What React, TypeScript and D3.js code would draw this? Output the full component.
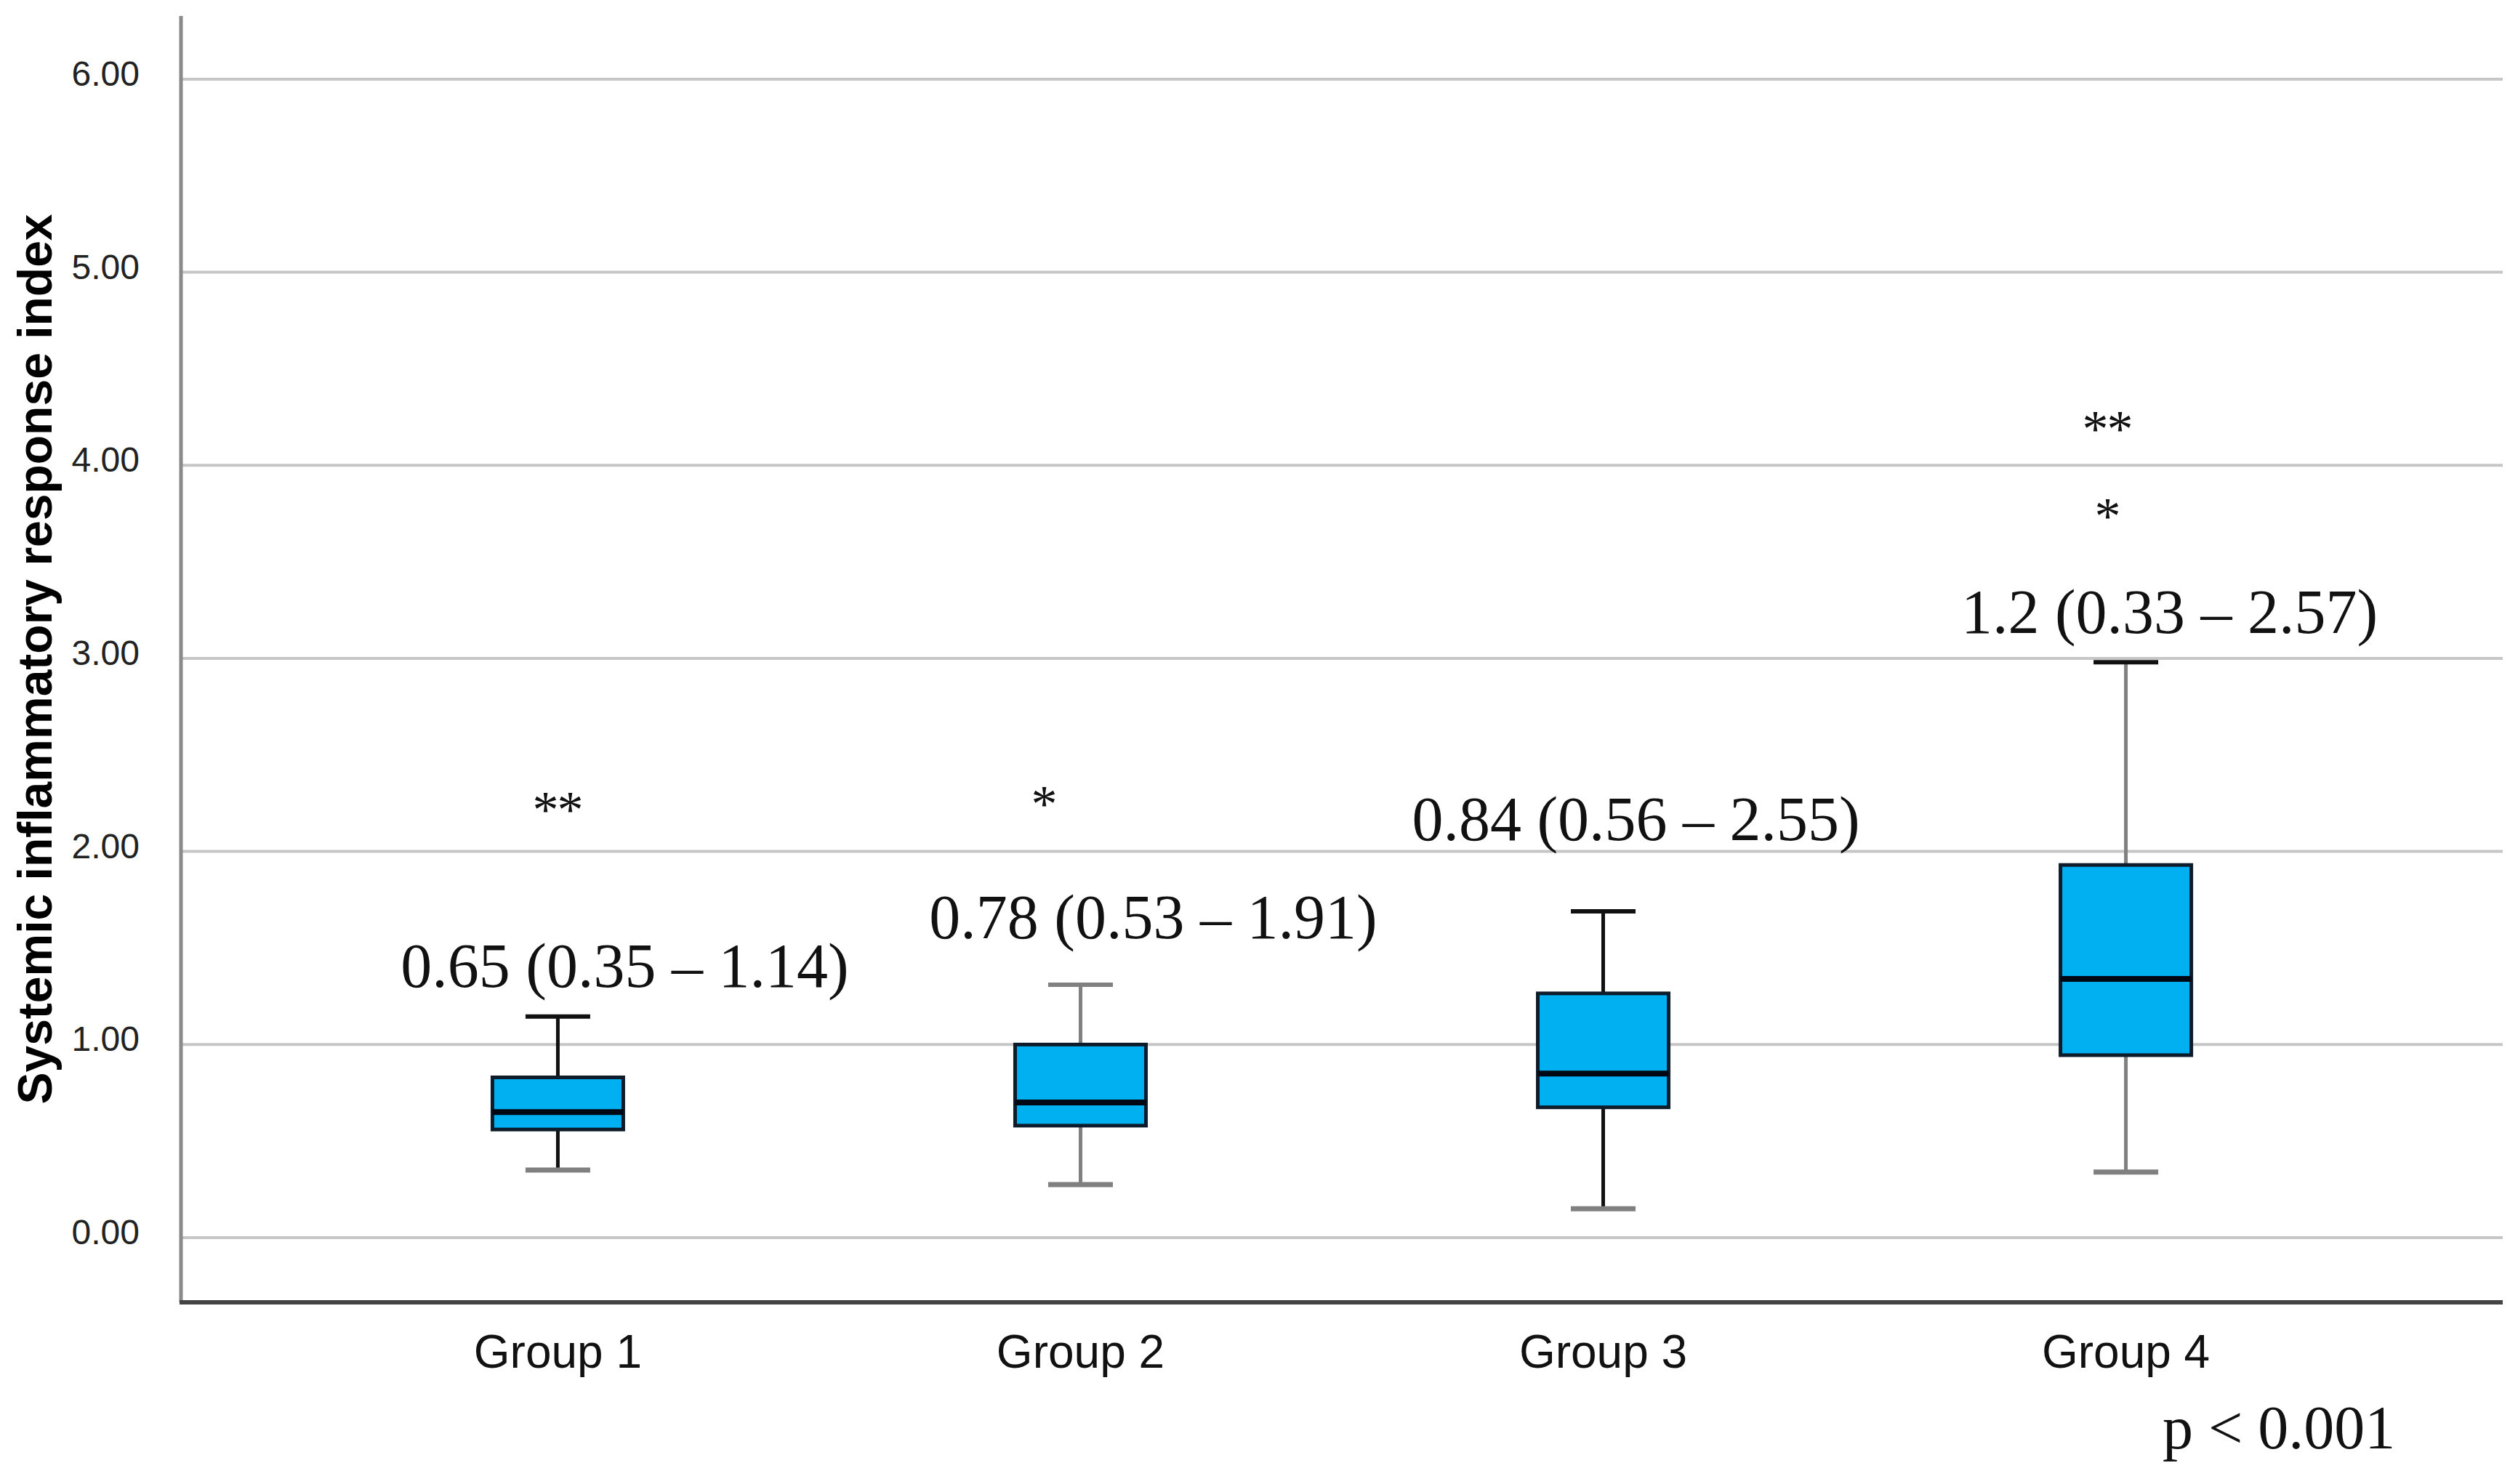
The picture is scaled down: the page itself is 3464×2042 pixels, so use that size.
import React from "react";
import * as d3 from "d3";

// ---- data ----
const groups = ["Group 1", "Group 2", "Group 3", "Group 4"];
const whiskerLow = [0.35, 0.275, 0.15, 0.34];
const q1 = [0.56, 0.58, 0.675, 0.945];
const median = [0.65, 0.7, 0.85, 1.34];
const q3 = [0.83, 1.0, 1.265, 1.93];
const whiskerHigh = [1.145, 1.31, 1.69, 2.98];
const outliers: number[][] = [[2.27, 2.27], [2.3], [], [4.24, 4.24, 3.79]];
const summaryLabels = [
  "0.65 (0.35 \u2013 1.14)",
  "0.78 (0.53 \u2013 1.91)",
  "0.84 (0.56 \u2013 2.55)",
  "1.2 (0.33 \u2013 2.57)",
];
const yTicks = [0, 1, 2, 3, 4, 5, 6];
const yTitle = "Systemic inflammatory response index";
const pLabel = "p < 0.001";

// ---- layout / style ----
const W = 3464;
const H = 2042;
const plotLeft = 249;
const plotRight = 3443;
const plotTop = 22;
const plotBottom = 1792;
const labelAtValue = [1.3, 1.55, 2.06, 3.13];
const labelDx = [92, 100, 45, 60];
const outlierDx = [[-17, 17], [-50], [], [-42, -8, -25]];
const BLACK = "#111111";
const GRAY = "#808080";
const stemColor = [BLACK, GRAY, BLACK, GRAY];
const topCapColor = [BLACK, GRAY, BLACK, BLACK];
const lowCapColor = [GRAY, GRAY, GRAY, GRAY];
const boxW = 180;
const capW = 89;

export default function App() {
  const x = d3.scalePoint<string>().domain(groups).range([plotLeft, plotRight]).padding(0.721);
  const y = d3.scaleLinear().domain([-0.335, 6.327]).range([plotBottom, plotTop]);
  const fmt = d3.format(".2f");

  return (
    <svg
      width={W}
      height={H}
      style={{ position: "absolute", left: 0, top: 0, background: "#fff" }}
    >
      <rect x={0} y={0} width={W} height={H} fill="#ffffff" />
      {/* gridlines */}
      {yTicks.map((t) => (
        <line key={"g" + t} x1={plotLeft} x2={plotRight} y1={y(t)} y2={y(t)} stroke="#c6c6c6" strokeWidth={4} />
      ))}
      {/* tick labels */}
      {yTicks.map((t) => (
        <text
          key={"t" + t}
          x={192}
          y={y(t) + 9}
          textAnchor="end"
          fontFamily="'Liberation Sans', Arial, sans-serif"
          fontSize={48}
          fill="#222"
        >
          {fmt(t)}
        </text>
      ))}
      {/* axes */}
      <line x1={plotLeft} x2={plotLeft} y1={plotTop} y2={plotBottom} stroke="#8a8a8a" strokeWidth={5} />
      <line x1={plotLeft - 2} x2={plotRight} y1={plotBottom} y2={plotBottom} stroke="#444" strokeWidth={6} />

      {/* boxes */}
      {groups.map((g, i) => {
        const cx = x(g) as number;
        return (
          <g key={g}>
            <line x1={cx} x2={cx} y1={y(whiskerHigh[i])} y2={y(q3[i])} stroke={stemColor[i]} strokeWidth={5} />
            <line x1={cx} x2={cx} y1={y(q1[i])} y2={y(whiskerLow[i])} stroke={stemColor[i]} strokeWidth={5} />
            <line x1={cx - capW / 2} x2={cx + capW / 2} y1={y(whiskerHigh[i])} y2={y(whiskerHigh[i])} stroke={topCapColor[i]} strokeWidth={6} />
            <line x1={cx - capW / 2} x2={cx + capW / 2} y1={y(whiskerLow[i])} y2={y(whiskerLow[i])} stroke={lowCapColor[i]} strokeWidth={7} />
            <rect
              x={cx - boxW / 2}
              y={y(q3[i])}
              width={boxW}
              height={y(q1[i]) - y(q3[i])}
              fill="#00b0f0"
              stroke="#0d1b2a"
              strokeWidth={5}
            />
            <line x1={cx - boxW / 2} x2={cx + boxW / 2} y1={y(median[i])} y2={y(median[i])} stroke="#000814" strokeWidth={8} />
            {outliers[i].map((v, j) => (
              <text
                key={j}
                x={cx + outlierDx[i][j]}
                y={y(v) + 38}
                textAnchor="middle"
                fontFamily="'Liberation Serif', 'Times New Roman', serif"
                fontSize={72}
                fill="#111"
              >
                *
              </text>
            ))}
            <text
              x={cx + labelDx[i]}
              y={y(labelAtValue[i])}
              textAnchor="middle"
              fontFamily="'Liberation Serif', 'Times New Roman', serif"
              fontSize={86}
              fill="#111"
            >
              {summaryLabels[i]}
            </text>
            <text
              x={cx}
              y={1882}
              textAnchor="middle"
              fontFamily="'Liberation Sans', Arial, sans-serif"
              fontSize={64}
              fill="#111"
            >
              {g}
            </text>
          </g>
        );
      })}

      {/* y axis title */}
      <text
        transform={`translate(71, ${(plotTop + plotBottom) / 2}) rotate(-90)`}
        textAnchor="middle"
        fontFamily="'Liberation Sans', Arial, sans-serif"
        fontWeight="bold"
        fontSize={66}
        fill="#000"
      >
        {yTitle}
      </text>

      {/* p value */}
      <text
        x={2975}
        y={1993}
        textAnchor="start"
        fontFamily="'Liberation Serif', 'Times New Roman', serif"
        fontSize={84}
        fill="#111"
      >
        {pLabel}
      </text>
    </svg>
  );
}
